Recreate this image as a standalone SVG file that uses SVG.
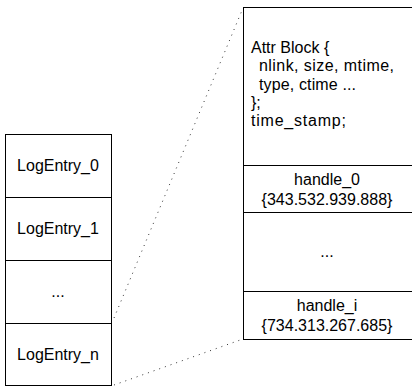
<svg xmlns="http://www.w3.org/2000/svg" width="412" height="387" viewBox="0 0 412 387">
<style>
.box{fill:#fff;stroke:#000;stroke-width:1}
.sep{stroke:#000;stroke-width:1}
.t{font-family:"Liberation Sans",Arial,sans-serif;font-size:16px;fill:#000}
.c{text-anchor:middle}
.dot{fill:none;stroke:#333;stroke-width:1;stroke-dasharray:1 5}
</style>
<rect width="412" height="387" fill="#fff"/>
<g id="connectors">
<line class="dot" x1="114" y1="318" x2="243" y2="8"/>
<line class="dot" x1="114" y1="385" x2="243" y2="339"/>
</g>
<g id="log">
<rect class="box" x="5.5" y="134.5" width="106" height="251"/>
<g id="logentry0"><text class="t c" x="58" y="171">LogEntry_0</text></g>
<line class="sep" x1="5" y1="197.5" x2="112" y2="197.5"/>
<g id="logentry1"><text class="t c" x="58" y="234">LogEntry_1</text></g>
<line class="sep" x1="5" y1="260.5" x2="112" y2="260.5"/>
<g id="logdots"><text class="t c" x="58" y="297">...</text></g>
<line class="sep" x1="5" y1="323.5" x2="112" y2="323.5"/>
<g id="logentryn"><text class="t c" x="58" y="360">LogEntry_n</text></g>
</g>
<g id="inode">
<rect class="box" x="243.5" y="7.5" width="180" height="332"/>
<g id="attr">
<text class="t" x="251" y="52.5">Attr Block {</text>
<text class="t" x="259" y="71" textLength="135" lengthAdjust="spacing">nlink, size, mtime,</text>
<text class="t" x="259" y="89.5" textLength="97" lengthAdjust="spacing">type, ctime ...</text>
<text class="t" x="251" y="107.5">};</text>
<text class="t" x="251" y="126" textLength="95" lengthAdjust="spacing">time_stamp;</text>
</g>
<line class="sep" x1="243" y1="165.5" x2="412" y2="165.5"/>
<g id="handle0">
<text class="t c" x="327" y="185">handle_0</text>
<text class="t c" x="327" y="205">{343.532.939.888}</text>
</g>
<line class="sep" x1="243" y1="212.5" x2="412" y2="212.5"/>
<g id="handledots"><text class="t c" x="327" y="257">...</text></g>
<line class="sep" x1="243" y1="291.5" x2="412" y2="291.5"/>
<g id="handlei">
<text class="t c" x="327" y="311">handle_i</text>
<text class="t c" x="327" y="331">{734.313.267.685}</text>
</g>
</g>
</svg>
